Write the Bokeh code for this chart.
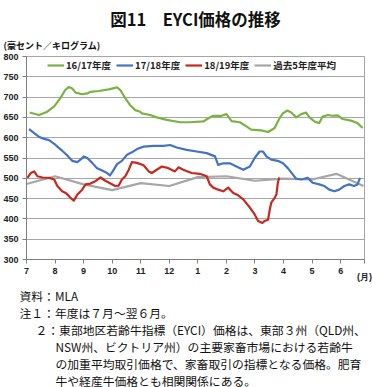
from bokeh.plotting import figure
from bokeh.models import Range1d, FixedTicker, Legend, LegendItem, Title
from bokeh.embed import file_html
from bokeh.resources import INLINE

# ---- data (x = months since start of July; 0 -> "7") ----
month_labels = ["7", "8", "9", "10", "11", "12", "1", "2", "3", "4", "5", "6"]
y_ticks = [300, 350, 400, 450, 500, 550, 600, 650, 700, 750, 800]

fy1617_x = [0.11, 0.44, 0.73, 0.97, 1.14, 1.25, 1.35, 1.49, 1.60, 1.72, 1.95, 2.13, 2.24, 2.53, 2.88,
            3.17, 3.29, 3.46, 3.63, 3.81, 3.98, 4.04, 4.33, 4.56, 4.91, 5.38, 5.72, 6.19, 6.37, 6.54,
            6.83, 7.00, 7.18, 7.47, 7.70, 7.87, 8.22, 8.46, 8.69, 8.86, 8.98, 9.13, 9.27, 9.44, 9.62,
            9.79, 9.91, 10.08, 10.25, 10.37, 10.55, 10.72, 10.90, 11.07, 11.36, 11.59, 11.77]
fy1617_y = [662, 656, 664, 677, 693, 705, 717, 725, 721, 711, 707, 709, 713, 715, 719,
            724, 717, 697, 680, 668, 664, 660, 656, 650, 644, 638, 638, 640, 648, 654,
            654, 658, 641, 638, 628, 620, 618, 614, 624, 648, 660, 667, 662, 650, 658,
            662, 650, 640, 636, 652, 656, 654, 655, 646, 642, 636, 624]

fy1718_x = [0.09, 0.27, 0.44, 0.62, 0.79, 0.97, 1.08, 1.25, 1.43, 1.60, 1.78, 1.89, 2.01, 2.13, 2.30,
            2.47, 2.65, 2.82, 2.92, 3.02, 3.17, 3.34, 3.52, 3.69, 3.87, 4.10, 4.45, 4.80, 5.03, 5.26,
            5.61, 5.96, 6.31, 6.60, 6.71, 6.89, 7.12, 7.35, 7.59, 7.82, 7.99, 8.16, 8.28, 8.40, 8.57,
            8.80, 8.98, 9.15, 9.33, 9.44, 9.62, 9.85, 10.02, 10.25, 10.43, 10.60, 10.78, 10.95, 11.13,
            11.30, 11.47, 11.59, 11.68]
fy1718_y = [621, 611, 602, 597, 594, 585, 578, 568, 556, 543, 540, 546, 554, 550, 538,
            525, 519, 513, 507, 517, 535, 543, 558, 564, 572, 578, 580, 580, 582, 576,
            570, 566, 562, 554, 533, 537, 537, 529, 521, 529, 550, 566, 566, 554, 546,
            543, 537, 525, 509, 499, 497, 501, 489, 485, 481, 472, 468, 472, 481,
            485, 481, 485, 501]

fy1819_x = [0.03, 0.15, 0.27, 0.38, 0.56, 0.79, 0.97, 1.08, 1.25, 1.37, 1.49, 1.60, 1.66, 1.78, 1.95,
            2.07, 2.24, 2.41, 2.59, 2.76, 2.94, 3.11, 3.23, 3.34, 3.46, 3.58, 3.69, 3.87, 4.10, 4.28,
            4.39, 4.56, 4.74, 4.97, 5.20, 5.32, 5.49, 5.78, 6.07, 6.31, 6.42, 6.54, 6.71, 6.89, 7.06,
            7.24, 7.41, 7.59, 7.82, 7.99, 8.11, 8.26, 8.34, 8.46, 8.51, 8.57, 8.69, 8.75, 8.80, 8.85]
fy1819_y = [501, 513, 517, 505, 502, 501, 497, 481, 468, 464, 456, 448, 445, 460, 472,
            485, 487, 493, 502, 494, 487, 481, 482, 497, 505, 521, 540, 538, 532, 517,
            513, 521, 529, 525, 517, 527, 521, 513, 511, 505, 485, 477, 472, 468, 477,
            464, 458, 448, 428, 411, 395, 390, 395, 398, 420, 440, 452, 460, 489, 502]

avg5_x = [0.0, 1.0, 2.0, 3.0, 4.0, 5.0, 6.0, 7.0, 8.0, 9.0, 10.0, 10.85, 11.8]
avg5_y = [486, 505, 485, 471, 488, 481, 503, 505, 494, 499, 497, 511, 481]

series_names = ["16/17年度", "17/18年度", "18/19年度", "過去5年度平均"]
series_colors = ["#7bb342", "#4472c4", "#c8281e", "#a6a6a6"]

title_text = "図11　EYCI価格の推移"
unit_text = "(豪セント／キログラム)"
month_unit_text = "(月)"
notes = [
    ("資料：MLA", -7),
    ("注１：年度は７月～翌６月。", -7),
    ("２：東部地区若齢牛指標（EYCI）価格は、東部３州（QLD州、", 9),
    ("NSW州、ビクトリア州）の主要家畜市場における若齢牛", 29),
    ("の加重平均取引価格で、家畜取引の指標となる価格。肥育", 29),
    ("牛や経産牛価格とも相関関係にある。", 29),
]

JP = "Noto Sans CJK JP"
X_END = 11.835

p = figure(width=372, height=387, output_backend="svg", toolbar_location=None,
           x_range=Range1d(0, X_END), y_range=Range1d(300, 800),
           min_border_left=24, min_border_right=8, min_border_top=56, min_border_bottom=126)
p.background_fill_color = "white"
p.border_fill_color = "white"
p.outline_line_color = "#a6a6a6"
p.xgrid.visible = False
p.ygrid.grid_line_color = "#a6a6a6"
p.ygrid.grid_line_width = 1

p.yaxis.ticker = FixedTicker(ticks=y_ticks)
p.yaxis.major_tick_out = 4
p.yaxis.major_tick_in = 0
p.yaxis.minor_tick_line_color = None
p.yaxis.major_label_standoff = 4
p.yaxis.axis_line_color = "#7f7f7f"
p.yaxis.major_tick_line_color = "#7f7f7f"

x_ticks = list(range(12)) + [X_END]
overrides = {i: lab for i, lab in enumerate(month_labels)}
overrides[X_END] = "\n" + month_unit_text
p.xaxis.ticker = FixedTicker(ticks=x_ticks)
p.xaxis.major_label_overrides = overrides
p.xaxis.major_tick_out = 4
p.xaxis.major_tick_in = 0
p.xaxis.minor_tick_line_color = None
p.xaxis.major_label_standoff = 2
p.xaxis.major_label_text_line_height = 0.65
p.xaxis.axis_line_color = "#7f7f7f"
p.xaxis.major_tick_line_color = "#7f7f7f"

for ax in (p.xaxis, p.yaxis):
    ax.major_label_text_font = "Liberation Sans"
    ax.major_label_text_font_size = "9px"
    ax.major_label_text_font_style = "bold"
    ax.major_label_text_color = "#222222"

renderers = []
for xs, ys, c in [(avg5_x, avg5_y, series_colors[3]),
                  (fy1617_x, fy1617_y, series_colors[0]),
                  (fy1718_x, fy1718_y, series_colors[1]),
                  (fy1819_x, fy1819_y, series_colors[2])]:
    renderers.append(p.line(xs, ys, line_color=c, line_width=2.2, line_join="round"))

legend = Legend(items=[
    LegendItem(label=series_names[0], renderers=[renderers[1]]),
    LegendItem(label=series_names[1], renderers=[renderers[2]]),
    LegendItem(label=series_names[2], renderers=[renderers[3]]),
    LegendItem(label=series_names[3], renderers=[renderers[0]]),
], orientation="horizontal", location=(21, 187))
legend.padding = 0
legend.margin = 0
legend.spacing = 5
legend.label_standoff = 2
legend.glyph_width = 17
legend.glyph_height = 10
legend.label_height = 10
legend.label_text_font = JP
legend.label_text_font_size = "9.5px"
legend.label_text_font_style = "bold"
legend.label_text_color = "#222222"
legend.border_line_color = None
legend.background_fill_alpha = 0
p.add_layout(legend, "center")

# texts above the frame (first added = closest to the frame)
p.add_layout(Title(text=unit_text, align="left", offset=-23, standoff=10,
                   text_font=JP, text_font_size="9px", text_font_style="bold",
                   text_color="#111111"), "above")
p.add_layout(Title(text=title_text, align="center", offset=0, standoff=2,
                   text_font=JP, text_font_size="16.5px", text_font_style="bold",
                   text_color="#111111"), "above")

# footnotes below the axis
for t, off in notes:
    p.add_layout(Title(text=t, align="left", offset=off, standoff=-2,
                       text_font=JP, text_font_size="11.8px", text_font_style="normal",
                       text_color="#111111"), "below")

open("out.html", "w").write(file_html(p, INLINE))
